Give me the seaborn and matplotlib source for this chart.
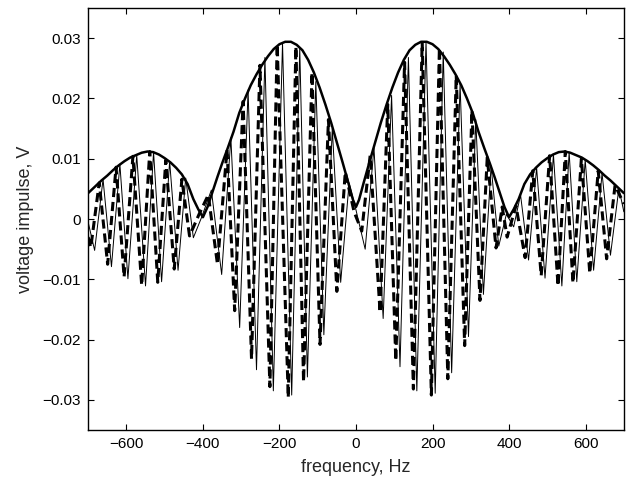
import matplotlib
matplotlib.use("Agg")
import matplotlib.pyplot as plt
import matplotlib.ticker as mticker
import seaborn as sns

# envelope (thick solid line)
env_f = [-700, -690, -680, -665, -650, -635, -620, -605, -590, -575,
         -560, -545, -530, -515, -500, -485, -470, -455, -440, -425,
         -412, -400, -388, -375, -362, -350, -335, -320, -305, -290,
         -275, -260, -245, -230, -215, -200, -185, -170, -155, -140,
         -125, -110, -95, -80, -65, -50, -35, -20, -8,
         0,
         8, 20, 35, 50, 65, 80, 95, 110, 125,
         140, 155, 170, 185, 200, 215, 230, 245, 260, 275,
         290, 305, 320, 335, 350, 362, 375, 388, 400, 412,
         425, 440, 455, 470, 485, 500, 515, 530, 545, 560,
         575, 590, 605, 620, 635, 650, 665, 680, 690, 700]
env_v = [0.0043, 0.0049, 0.0055, 0.0064, 0.0072, 0.0081, 0.0089, 0.0096, 0.0102, 0.0106,
         0.0110, 0.0112, 0.0111, 0.0107, 0.0101, 0.0094, 0.0085, 0.0074, 0.0058, 0.0033,
         0.0016, 0.0003, 0.0020, 0.0045, 0.0070, 0.0092, 0.0118, 0.0145, 0.0176, 0.0200,
         0.0222, 0.0240, 0.0256, 0.0270, 0.0282, 0.0290, 0.0294, 0.0294, 0.0289, 0.0280,
         0.0264, 0.0243, 0.0218, 0.0190, 0.0160, 0.0127, 0.0094, 0.0060, 0.0032,
         0.0020,
         0.0032, 0.0060, 0.0094, 0.0127, 0.0160, 0.0190, 0.0218, 0.0243, 0.0264,
         0.0280, 0.0289, 0.0294, 0.0294, 0.0290, 0.0282, 0.0270, 0.0256, 0.0240, 0.0222,
         0.0200, 0.0176, 0.0145, 0.0118, 0.0092, 0.0070, 0.0045, 0.0020, 0.0003, 0.0016,
         0.0033, 0.0058, 0.0074, 0.0085, 0.0094, 0.0101, 0.0107, 0.0111, 0.0112, 0.0110,
         0.0106, 0.0102, 0.0096, 0.0089, 0.0081, 0.0072, 0.0064, 0.0055, 0.0049, 0.0043]

# thin solid curve: turning points
sol_f = [-700, -683, -661, -639, -617, -596, -573, -550, -529, -508,
         -487, -465, -445, -425, -404, -378, -351, -327, -304, -282,
         -260, -238, -216, -192, -168, -147, -127, -105, -84, -62,
         -40, -18, 0, 24, 47, 71, 93, 115, 137, 159,
         183, 207, 228, 250, 272, 294, 313, 333, 353, 373,
         393, 412, 430, 451, 472, 494, 516, 538, 557, 577,
         599, 621, 643, 665, 687, 700]
sol_v = [-0.0005, -0.0052, 0.0066, -0.0079, 0.0091, -0.0099, 0.0106, -0.0111, 0.0111, -0.0104,
         0.0096, -0.0085, 0.0068, -0.0031, 0.0002, 0.0048, -0.0092, 0.0135, -0.0180, 0.0214,
         -0.0250, 0.0268, -0.0285, 0.0292, -0.0292, 0.0284, -0.0262, 0.0228, -0.0192, 0.0150,
         -0.0105, 0.0060, 0.0015, -0.0050, 0.0118, -0.0165, 0.0205, -0.0245, 0.0268, -0.0285,
         0.0294, -0.0289, 0.0277, -0.0255, 0.0224, -0.0195, 0.0165, -0.0125, 0.0088, -0.0045,
         0.0008, -0.0013, 0.0040, -0.0068, 0.0085, -0.0098, 0.0107, -0.0111, 0.0111, -0.0104,
         0.0098, -0.0085, 0.0076, -0.0060, 0.0051, 0.0012]

# thick dashed curve: turning points
das_f = [-700, -693, -671, -649, -627, -606, -583, -560, -539, -518,
         -497, -475, -455, -435, -410, -386, -362, -337, -317, -295,
         -273, -251, -225, -206, -177, -157, -137, -115, -94, -72,
         -50, -28, -5, 15, 37, 63, 83, 104, 127, 150,
         173, 197, 218, 240, 262, 284, 303, 324, 343, 366,
         382, 395, 418, 442, 462, 484, 506, 528, 547, 567,
         589, 611, 633, 655, 677, 700]
das_v = [-0.0030, -0.0047, 0.0060, -0.0075, 0.0086, -0.0096, 0.0104, -0.0110, 0.0112, -0.0105,
         0.0098, -0.0083, 0.0066, -0.0028, 0.0008, 0.0040, -0.0075, 0.0115, -0.0152, 0.0195,
         -0.0232, 0.0255, -0.0278, 0.0290, -0.0296, 0.0286, -0.0270, 0.0243, -0.0208, 0.0165,
         -0.0120, 0.0078, 0.0012, -0.0020, 0.0105, -0.0155, 0.0190, -0.0235, 0.0260, -0.0282,
         0.0293, -0.0292, 0.0284, -0.0265, 0.0238, -0.0210, 0.0180, -0.0135, 0.0102, -0.0048,
         0.0020, -0.0030, 0.0022, -0.0064, 0.0080, -0.0094, 0.0105, -0.0111, 0.0112, -0.0106,
         0.0100, -0.0090, 0.0080, -0.0066, 0.0056, 0.0025]

x_ticks = [-600, -400, -200, 0, 200, 400, 600]
y_ticks = [-0.03, -0.02, -0.01, 0, 0.01, 0.02, 0.03]

sns.set_style("ticks")
plt.rcParams["font.family"] = ["Liberation Sans", "DejaVu Sans"]

fig = plt.figure(figsize=(6.34, 4.87), dpi=100)
ax = fig.add_axes([0.139, 0.117, 0.845, 0.8665])

sns.lineplot(x=sol_f, y=sol_v, ax=ax, color="black", lw=0.7,
             estimator=None, sort=False)
sns.lineplot(x=das_f, y=das_v, ax=ax, color="black", lw=2.2,
             linestyle=(0, (3, 1.6)), estimator=None, sort=False)
sns.lineplot(x=env_f, y=env_v, ax=ax, color="black", lw=1.8,
             estimator=None, sort=False)


def y_fmt(v, pos):
    if abs(v) < 1e-9:
        return "0"
    return f"{round(v, 2):g}".replace("-", "\u2212")


ax.set_xlim(-700, 700)
ax.set_ylim(-0.035, 0.035)
ax.set_xticks(x_ticks)
ax.set_yticks(y_ticks)
ax.yaxis.set_major_formatter(mticker.FuncFormatter(y_fmt))
ax.tick_params(direction="in", length=4, width=0.8, top=True, right=True,
               labelsize=11, colors="black", pad=5)
for sp in ax.spines.values():
    sp.set_visible(True)
    sp.set_linewidth(1.0)
    sp.set_color("black")

ax.set_xlabel("frequency, Hz", fontsize=13, labelpad=6)
ax.set_ylabel("voltage impulse, V", fontsize=13, labelpad=6)

fig.savefig("out.png", dpi=100)
